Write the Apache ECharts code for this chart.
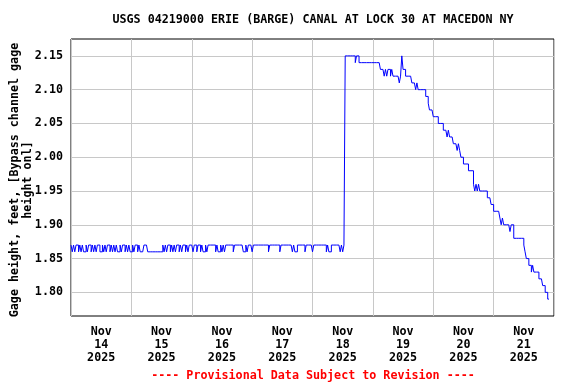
<!DOCTYPE html>
<html>
<head>
<meta charset="utf-8">
<script src="https://cdn.jsdelivr.net/npm/echarts@6/dist/echarts.min.js"></script>
<style>html,body{margin:0;padding:0;background:#fff}#c{width:576px;height:384px}</style>
</head>
<body>
<div id="c"></div>
<script>
// Gage height (ft), 30-minute readings, one array per day starting at 00:00
var day14 = [1.87,1.86,1.87,1.86,1.87,1.87,1.86,1.87, 1.86,1.87,1.86,1.86,1.87,1.86,1.87,1.87, 1.86,1.87,1.86,1.87,1.86,1.87,1.87,1.86, 1.86,1.87,1.86,1.87,1.86,1.87,1.87,1.86, 1.87,1.86,1.87,1.86,1.87,1.86,1.86,1.87, 1.86,1.87,1.87,1.86,1.87,1.86,1.87,1.86];
var day15 = [1.86,1.87,1.86,1.87,1.87,1.86,1.87,1.86, 1.86,1.86,1.87,1.87, 1.87,1.86,1.86,1.86, 1.86,1.86,1.86,1.86,1.86,1.86,1.86,1.86,1.86, 1.87,1.86,1.87,1.86,1.87,1.87,1.86,1.87,1.86,1.87,1.86,1.87,1.87,1.86,1.87,1.86,1.87,1.87,1.86,1.87,1.86,1.87,1.87];
var day16 = [1.87,1.86,1.87,1.87,1.86,1.87,1.87,1.86,1.87, 1.86,1.86,1.87,1.86, 1.87,1.87,1.87,1.87,1.87,1.87, 1.86,1.87,1.86, 1.86,1.87,1.86,1.87,1.86, 1.87,1.87,1.87,1.87,1.87,1.87, 1.86, 1.87,1.87,1.87,1.87,1.87,1.87,1.87, 1.86,1.86,1.87,1.86, 1.87,1.87,1.87];
var day17 = [1.86,1.87,1.87,1.87,1.87,1.87,1.87,1.87,1.87,1.87,1.87,1.87,1.87, 1.86, 1.87,1.87,1.87,1.87,1.87,1.87,1.87,1.87, 1.86, 1.87,1.87,1.87,1.87,1.87,1.87,1.87,1.87,1.87, 1.86,1.87,1.86,1.86, 1.87,1.87,1.87,1.87,1.87,1.87, 1.86, 1.87,1.87,1.87,1.87,1.87];
var day18 = [1.86, 1.87,1.87,1.87,1.87,1.87,1.87,1.87,1.87,1.87,1.87, 1.86,1.87,1.86,1.86, 1.87,1.87,1.87,1.87,1.87,1.87,1.87, 1.86,1.87,1.86,1.87, 2.15,2.15,2.15,2.15,2.15,2.15,2.15,2.15, 2.14, 2.15,2.15, 2.14, 2.14,2.14,2.14,2.14,2.14,2.14,2.14,2.14,2.14,2.14];
var day19 = [2.14,2.14,2.14,2.14,2.14,2.14, 2.13,2.13,2.13, 2.12,2.13,2.12,2.13,2.13,2.12,2.13, 2.12,2.12,2.12,2.12,2.12, 2.11, 2.12, 2.15, 2.13,2.13, 2.12,2.12,2.12,2.12,2.12, 2.11,2.11,2.11, 2.10, 2.11, 2.10,2.10,2.10,2.10,2.10,2.10, 2.09,2.09, 2.08, 2.07,2.07,2.07];
var day20 = [2.06,2.06,2.06,2.06, 2.05,2.05,2.05,2.05, 2.04,2.04,2.04, 2.03, 2.04, 2.03,2.03,2.03, 2.02,2.02,2.02, 2.01,2.02,2.01, 2.00,2.00, 1.99,1.99,1.99,1.99, 1.98,1.98,1.98,1.98, 1.96,1.95,1.96,1.95,1.96, 1.95,1.95,1.95,1.95,1.95,1.95, 1.94,1.94,1.94, 1.93,1.93];
var day21 = [1.92,1.92,1.92,1.92,1.92, 1.91,1.90,1.91,1.90, 1.90,1.90,1.90,1.90, 1.89, 1.90,1.90, 1.88,1.88,1.88,1.88,1.88,1.88,1.88,1.88, 1.87,1.86, 1.85,1.85,1.84, 1.84,1.83,1.84,1.83, 1.83,1.83,1.83, 1.82,1.82,1.82, 1.81,1.81,1.80, 1.80, 1.79,1.79];

var days = [day14, day15, day16, day17, day18, day19, day20, day21];
var xTickLabels = ['Nov\n14\n2025','Nov\n15\n2025','Nov\n16\n2025','Nov\n17\n2025','Nov\n18\n2025','Nov\n19\n2025','Nov\n20\n2025','Nov\n21\n2025'];
var yTicks = [1.80, 1.85, 1.90, 1.95, 2.00, 2.05, 2.10, 2.15];
var titleText = 'USGS 04219000 ERIE (BARGE) CANAL AT LOCK 30 AT MACEDON NY';
var yName = 'Gage height, feet, [Bypass channel gage\nheight onl]';
var footer = '---- Provisional Data Subject to Revision ----';

// hours since Nov 14 00:00
var data = [];
days.forEach(function (arr, d) {
  arr.forEach(function (v, i) { data.push([d * 24 + i * 0.5, v]); });
});
var labelPos = xTickLabels.map(function (_, d) { return d * 24 + 12; });
var midnights = [];
for (var k = 0; k <= days.length; k++) midnights.push(k * 24);

var FONT = 'DejaVu Sans Mono';
var chart = echarts.init(document.getElementById('c'), null, {renderer: 'canvas'});
chart.setOption({
  animation: false,
  backgroundColor: '#fff',
  grid: {left: 71, right: 22, top: 39, bottom: 68, containLabel: false, outerBoundsMode: 'none',
         show: true, borderColor: '#000', borderWidth: 1, backgroundColor: 'transparent'},
  xAxis: {
    type: 'value', min: 0, max: 192,
    axisLine: {show: false},
    axisTick: {show: false, customValues: midnights},
    splitLine: {show: true, lineStyle: {color: '#c8c8c8', width: 1}},
    axisLabel: {
      customValues: labelPos,
      formatter: function (v) { return xTickLabels[Math.round((v - 12) / 24)] || ''; },
      fontFamily: FONT, fontWeight: 'bold', fontSize: 11.7, color: '#000', lineHeight: 13, margin: 9
    }
  },
  yAxis: {
    type: 'value', min: 1.765, max: 2.175,
    axisLine: {show: false},
    axisTick: {show: false, customValues: yTicks},
    splitLine: {show: true, lineStyle: {color: '#c8c8c8', width: 1}},
    axisLabel: {
      customValues: yTicks,
      formatter: function (v) { return v.toFixed(2); },
      fontFamily: FONT, fontWeight: 'bold', fontSize: 11.7, color: '#000', margin: 8
    }
  },
  series: [{
    type: 'line', data: data, step: 'end', symbol: 'none',
    lineStyle: {color: '#0000ff', width: 1}, clip: true
  }],
  graphic: [
    {type: 'text', x: 313, y: 20, style: {text: titleText, fontFamily: FONT, fontWeight: 'bold', fontSize: 11.7, fill: '#000', align: 'center', verticalAlign: 'middle'}},
    {type: 'text', x: 21, y: 180, rotation: Math.PI / 2, style: {text: yName, fontFamily: FONT, fontWeight: 'bold', fontSize: 11.7, lineHeight: 13, fill: '#000', align: 'center', verticalAlign: 'middle'}},
    {type: 'text', x: 313, y: 376, style: {text: footer, fontFamily: FONT, fontWeight: 'bold', fontSize: 11.7, fill: '#ff0000', align: 'center', verticalAlign: 'middle'}}
  ]
});
</script>
</body>
</html>
